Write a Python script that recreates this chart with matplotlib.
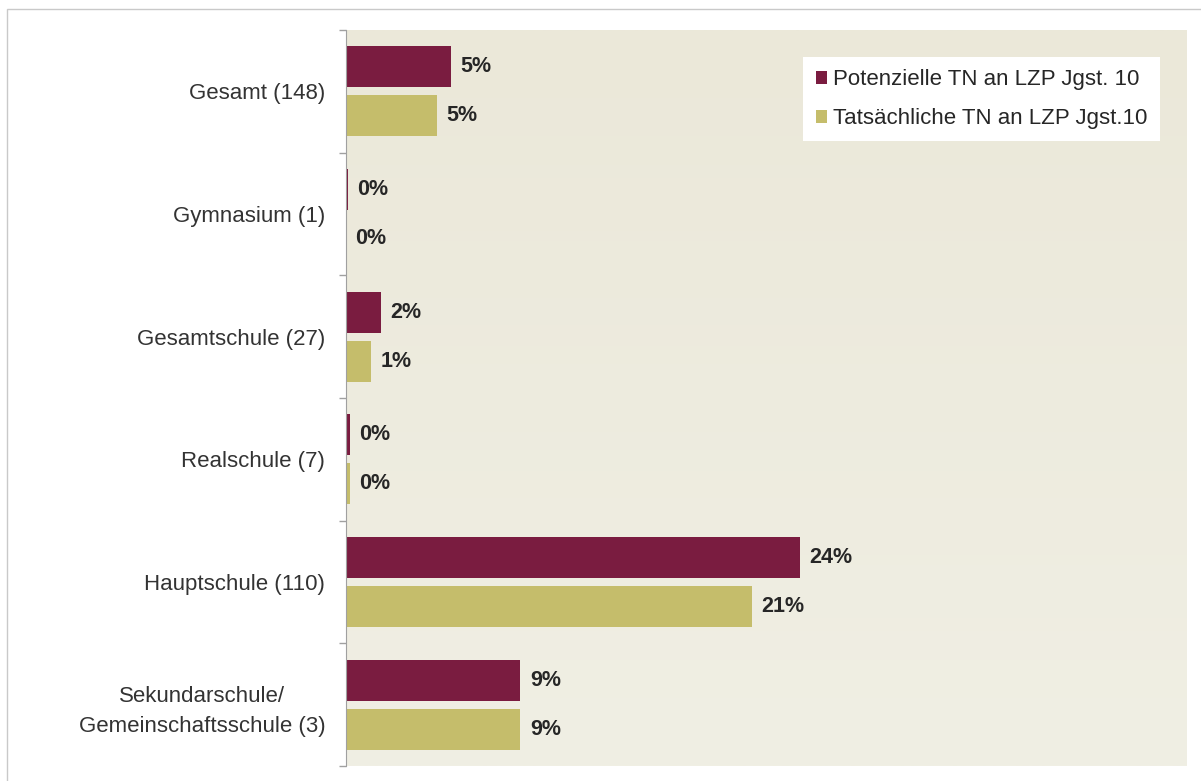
import numpy as np
import matplotlib.pyplot as plt
from matplotlib.patches import Rectangle
from matplotlib.colors import LinearSegmentedColormap

plt.rcParams['font.family'] = ['Liberation Sans', 'DejaVu Sans']

categories = ["Gesamt (148)", "Gymnasium (1)", "Gesamtschule (27)", "Realschule (7)",
              "Hauptschule (110)", "Sekundarschule/\nGemeinschaftsschule (3)"]
potenziell = [5.47, 0.1, 1.82, 0.2, 23.6, 9.06]
tatsaechlich = [4.74, 0.0, 1.30, 0.2, 21.1, 9.06]
series_names = ["Potenzielle TN an LZP Jgst. 10", "Tatsächliche TN an LZP Jgst.10"]

c_pot = "#7a1c40"
c_tat = "#c5bd6b"

fig = plt.figure(figsize=(12.01, 7.81), dpi=100)
ax = fig.add_axes([346 / 1201, 1 - 766 / 781, 841 / 1201, 736 / 781])

# outer frame of the chart object
fig.patches.append(Rectangle((7 / 1201, -0.1), 1.2, 1 - 9 / 781 + 0.1, transform=fig.transFigure,
                             fill=False, edgecolor="#c9c9c9", linewidth=1.0))

# beige plot area, slightly darker toward the top
grad = np.linspace(0, 1, 256).reshape(-1, 1)
cmap = LinearSegmentedColormap.from_list("bg", ["#ebe8d9", "#f0efe4"])
ax.imshow(grad, extent=[0, 1, 0, 1], transform=ax.transAxes, cmap=cmap,
          aspect="auto", zorder=0)

y = np.arange(len(categories))
h = 0.334
ax.barh(y - 0.2, potenziell, height=h, color=c_pot, label=series_names[0], zorder=2)
ax.barh(y + 0.2, tatsaechlich, height=h, color=c_tat, label=series_names[1], zorder=2)

for yi, v in zip(y - 0.2, potenziell):
    ax.text(v + 0.5, yi, f"{v:.0f}%", va="center", ha="left", fontsize=15.5,
            fontweight="bold", color="#262626", zorder=3)
for yi, v in zip(y + 0.2, tatsaechlich):
    ax.text(v + 0.5, yi, f"{v:.0f}%", va="center", ha="left", fontsize=15.5,
            fontweight="bold", color="#262626", zorder=3)

ax.set_xlim(0, 43.75)
ax.set_ylim(len(categories) - 0.5, -0.5)
ax.set_xticks([])

# boundary ticks without labels, category names centred between them
ax.set_yticks(np.arange(len(categories) + 1) - 0.5)
ax.set_yticklabels([])
ax.set_yticks(y, minor=True)
ax.set_yticklabels(categories, minor=True, fontsize=16, color="#333333",
                   ha="right", multialignment="center", linespacing=1.55)
ax.tick_params(axis="y", which="major", length=5, color="#a0a0a0", width=1)
ax.tick_params(axis="y", which="minor", length=0, pad=15)

for side in ["top", "right", "bottom"]:
    ax.spines[side].set_visible(False)
ax.spines["left"].set_color("#a0a0a0")
ax.spines["left"].set_zorder(4)

leg = ax.legend(loc="upper right", bbox_to_anchor=(0.968, 0.963), fontsize=16,
                frameon=True, fancybox=False, edgecolor="none", facecolor="white",
                framealpha=1, handlelength=0.5, handleheight=0.5, handletextpad=0.3,
                labelspacing=0.8, borderpad=0.55, borderaxespad=0)
for t in leg.get_texts():
    t.set_color("#262626")

fig.savefig("out.png", dpi=100)
